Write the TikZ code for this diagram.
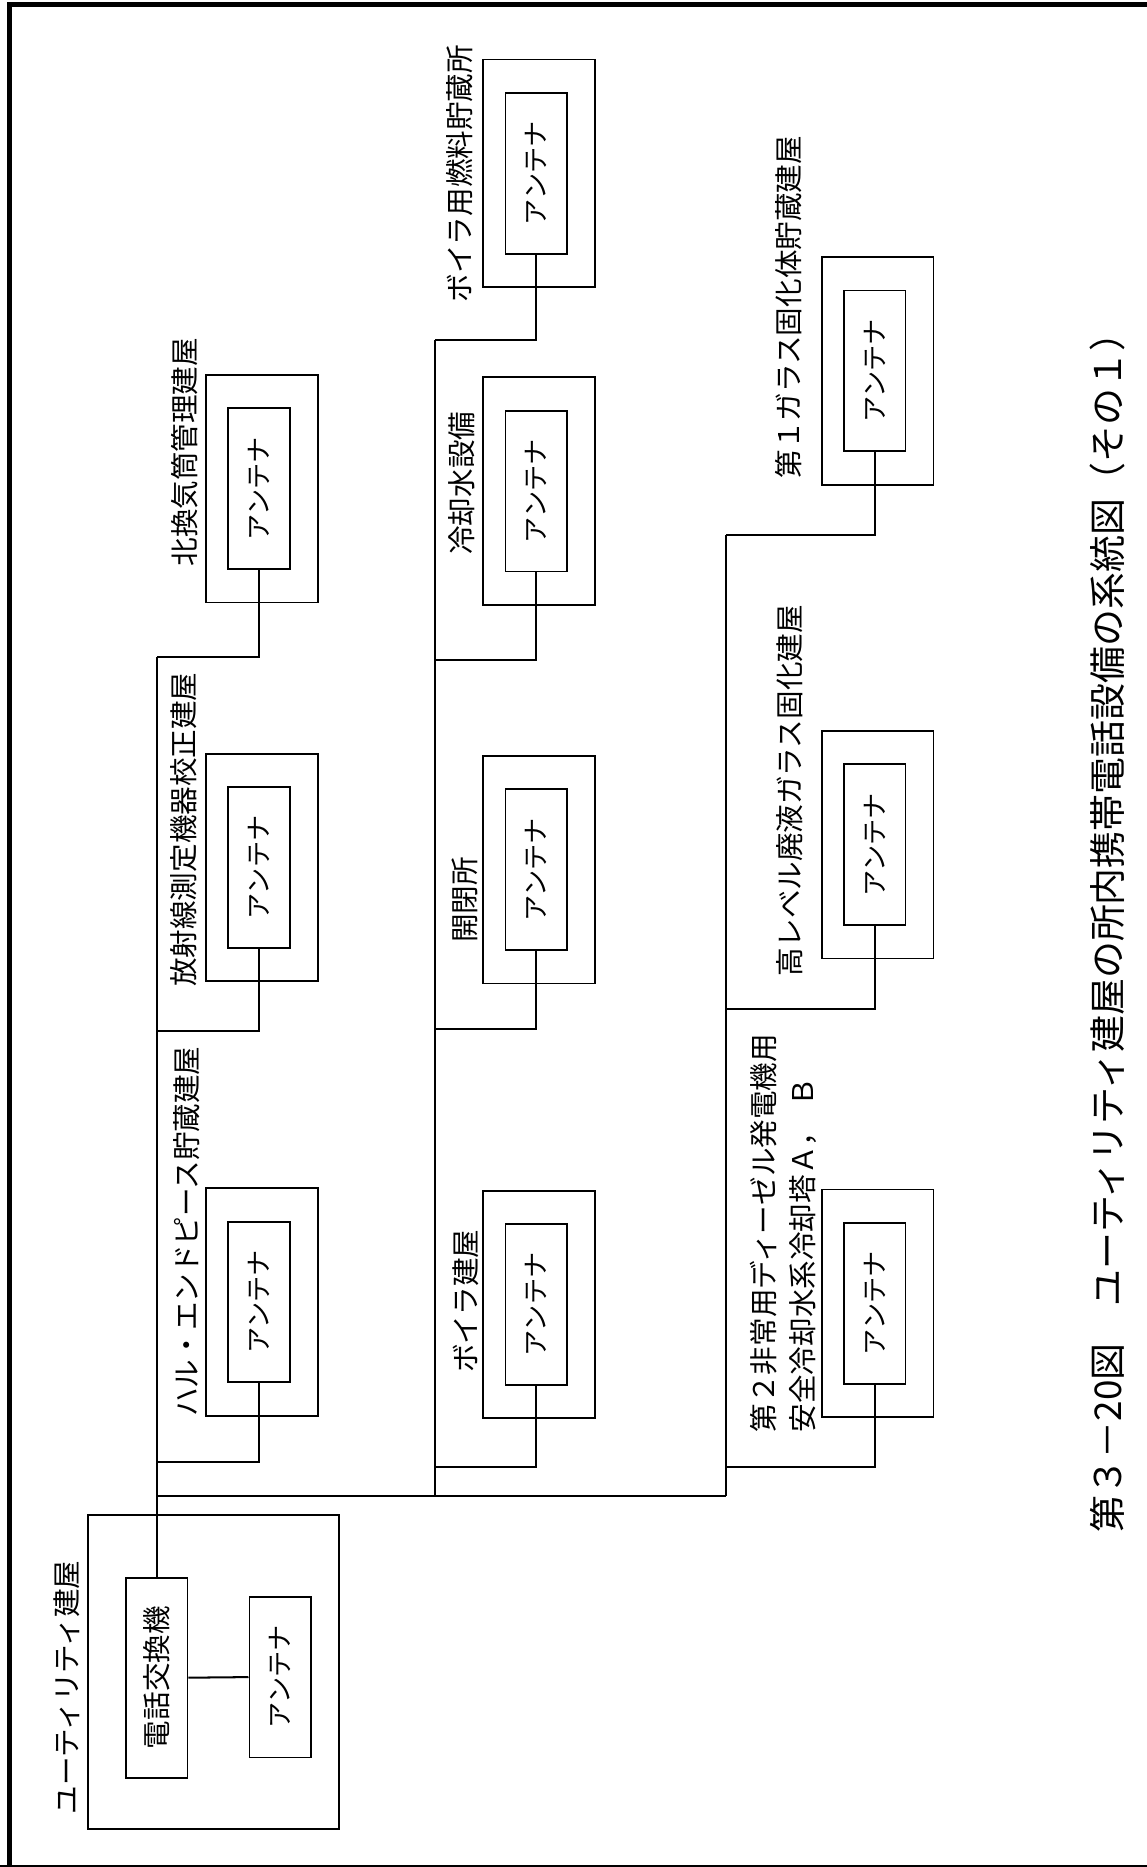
\documentclass[tikz,border=0pt]{standalone}
\usepackage{fontspec}
\setmainfont{Noto Sans CJK JP}
\usepackage{graphicx}
\tikzset{
  ln/.style={line width=1.7pt},
  outerbox/.style={draw, line width=1.6pt, minimum width=94pt, minimum height=191pt, inner sep=0pt},
  antbox/.style={draw, line width=1.6pt, minimum width=52pt, minimum height=135pt, inner sep=0pt, font=\fontsize{22}{26}\selectfont},
  lab/.style={rotate=90, anchor=west, inner sep=0pt, font=\fontsize{24}{28}\selectfont},
  caplab/.style={rotate=90, anchor=west, inner sep=0pt, font=\fontsize{31}{36}\selectfont},
}
\newcommand{\bldg}[3]{%
  \node[outerbox] (#1o) at ({#2+47},{#3+95.5}) {};
  \node[antbox] (#1) at ({#2+44.5},{#3+95.5}) {\rotatebox{90}{アンテナ}};
}
\begin{document}
\begin{tikzpicture}[x=1pt,y=-1pt]
\useasboundingbox (0,0) rectangle (963,1568);
% page frame
\draw[line width=4.2pt] (7.7,1575) -- (7.7,4) -- (975,4);
\draw[line width=1.2pt] (0,1567) -- (963,1567);

% utility building
\node[draw, line width=1.6pt, minimum width=211pt, minimum height=264pt, inner sep=0pt] (ut) at (179.5,1404) {};
\node[draw, line width=1.6pt, minimum width=52pt, minimum height=168pt, inner sep=0pt, font=\fontsize{24}{28}\selectfont] (sw) at (131.5,1409) {\rotatebox{90}{電話交換機}};
\node[antbox] (ua) at (235.5,1408.5) {\rotatebox{90}{アンテナ}};
\node[lab] (lut) at (56,1524) {ユーティリティ建屋};

% buildings
\bldg{nk}{173}{315}
\bldg{hs}{173}{633}
\bldg{hl}{173}{998}
\bldg{bf}{406}{50}
\bldg{rk}{406}{317}
\bldg{kh}{406}{635}
\bldg{bb}{406}{1000}
\bldg{ga}{690}{216}
\bldg{hv}{690}{614}
\bldg{dg}{690}{999}

% labels
\node[lab] (lnk) at (155,476) {北換気筒管理建屋};
\node[lab] (lhs) at (154,829) {放射線測定機器校正建屋};
\node[lab] (lhl) at (157,1190) {ハル・エンドピース貯蔵建屋};
\node[lab] (lbf) at (386,254) {ボイラ用燃料貯蔵所};
\node[lab] (lrk) at (388,466) {冷却水設備};
\node[lab] (lkh) at (390,792) {開閉所};
\node[lab] (lbb) at (391,1153) {ボイラ建屋};
\node[lab] (lga) at (662,402) {第１ガラス固化体貯蔵建屋};
\node[lab] (lhv) at (663,820) {高レベル廃液ガラス固化建屋};
\node[lab] (ldg1) at (641,1203) {第２非常用ディーゼル発電機用};
\node[lab] (ldg2) at (674,1203) {安全冷却水系冷却塔Ａ，\hspace{0.4em}Ｂ};
\node[caplab] (cap) at (930,1287) {第３－20図　ユーティリティ建屋の所内携帯電話設備の系統図（その１）};

% bus coordinates
\coordinate (c1a) at (131.5,552);
\coordinate (c1b) at (131.5,866);
\coordinate (c1c) at (131.5,1228);
\coordinate (j1) at (131.5,1256);
\coordinate (c2a) at (365,285.5);
\coordinate (c2b) at (365,554);
\coordinate (c2c) at (365,864);
\coordinate (c2d) at (365,1232);
\coordinate (j2) at (365,1256);
\coordinate (c3a) at (610,449);
\coordinate (c3b) at (610,847);
\coordinate (c3c) at (610,1232);
\coordinate (j3) at (610,1256);

% connectors
\draw[ln] (sw.north) -- (c1a);
\draw[ln] (sw.east) -- (ua.west);
\draw[ln] (j1) -- (j3);
\draw[ln] (c2a) -- (j2);
\draw[ln] (c3a) -- (j3);
\draw[ln] (nk.south) |- (c1a);
\draw[ln] (hs.south) |- (c1b);
\draw[ln] (hl.south) |- (c1c);
\draw[ln] (bf.south) |- (c2a);
\draw[ln] (rk.south) |- (c2b);
\draw[ln] (kh.south) |- (c2c);
\draw[ln] (bb.south) |- (c2d);
\draw[ln] (ga.south) |- (c3a);
\draw[ln] (hv.south) |- (c3b);
\draw[ln] (dg.south) |- (c3c);
\end{tikzpicture}
\end{document}
